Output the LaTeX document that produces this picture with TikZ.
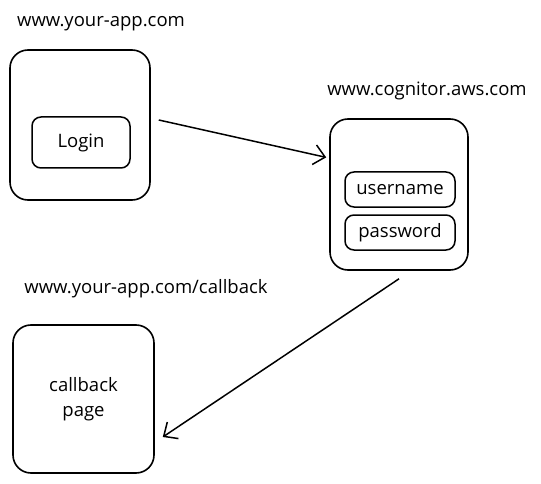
\documentclass[tikz,border=0pt]{standalone}
\usepackage{fontspec}
\setmainfont{Open Sans}
\usetikzlibrary{arrows.meta}
\begin{document}
\begin{tikzpicture}[x=1pt,y=-1pt,
  every node/.style={font=\fontsize{18.5}{22}\selectfont},
  page/.style={draw,line width=1.6pt,rounded corners=18pt,inner sep=0pt},
  field/.style={draw,line width=1.5pt,rounded corners=9pt,inner sep=0pt},
  lbl/.style={inner sep=0pt,anchor=center},
  flow/.style={line width=1.5pt,-{Straight Barb[length=11pt,width=20pt,line width=1.5pt]}}]
\useasboundingbox (0,0) rectangle (541,484);
% labels
\node[lbl] (l1) at (101,24) {www.your-app.com};
\node[lbl] (l2) at (427,91) {www.cognitor.aws.com};
\node[lbl] (l3) at (146,289) {www.your-app.com/callback};
% page 1
\node[page,minimum width=140pt,minimum height=150pt] (p1) at (80,125) {};
\node[field,minimum width=98pt,minimum height=51pt] (login) at (81,142.5) {Login};
% page 2
\node[page,minimum width=138pt,minimum height=151pt] (p2) at (399,194.5) {};
\node[field,minimum width=110pt,minimum height=35pt] (user) at (400,189.5) {username};
\node[field,minimum width=110pt,minimum height=35pt] (pass) at (400,232.5) {password};
% page 3
\node[page,minimum width=141pt,minimum height=148pt,align=center] (p3) at (83.5,399) {callback\\[3pt]page};
% arrows
\draw[flow] ([xshift=8pt,yshift=5pt]p1.east) -- ([xshift=-3pt]p2.152);
\draw[flow] ([yshift=-8pt]p2.south) -- ([xshift=8pt,yshift=-38pt]p3.east);
\end{tikzpicture}
\end{document}
